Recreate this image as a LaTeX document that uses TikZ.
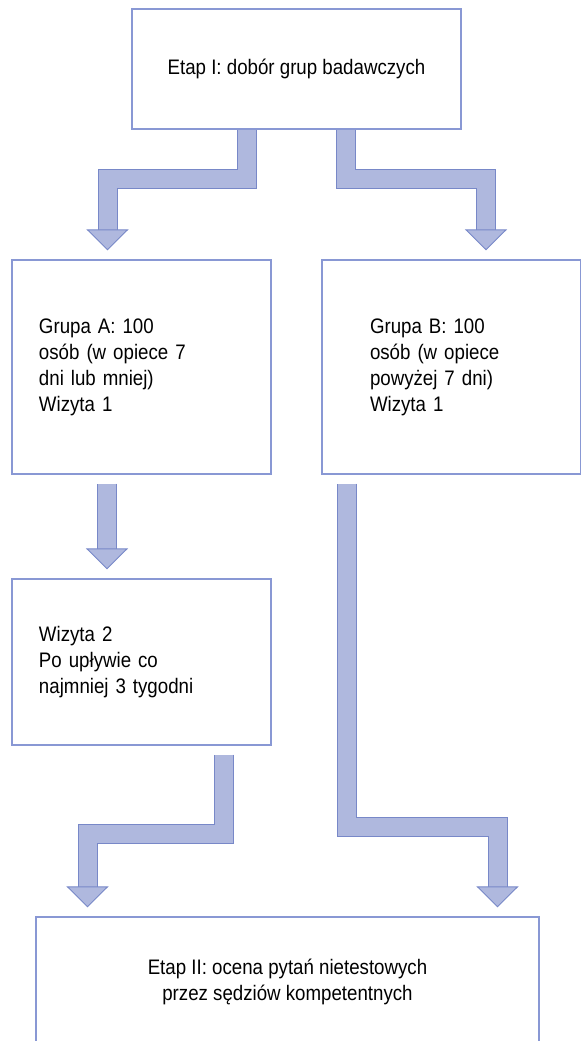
\documentclass[tikz,border=0pt]{standalone}
\usepackage{fontspec}
\setmainfont{Liberation Sans}[FakeStretch=0.89]
\usetikzlibrary{arrows.meta}
\definecolor{boxline}{RGB}{137,152,212}
\definecolor{arrowline}{RGB}{120,136,200}
\definecolor{arrowfill}{RGB}{175,184,222}
\pgfdeclarelayer{edgelayer}
\pgfdeclarelayer{nodelayer}
\pgfsetlayers{edgelayer,nodelayer,main}
\tikzstyle{none}=[inner sep=0pt]
\tikzstyle{box}=[rectangle,draw=boxline,line width=0.6pt,fill=white,inner sep=0pt,font=\fontsize{10.5}{13}\selectfont]
\tikzstyle{stagebox}=[style=box,align=center]
\tikzstyle{groupbox}=[style=box,minimum width=129.5pt,minimum height=107pt,inner xsep=13.5pt,text width=102.5pt,align=left]
\tikzstyle{fatarrow}=[draw=arrowline,line width=0.5pt,double=arrowfill,double distance=9pt,-{Triangle[width=21pt,length=10.5pt,fill=arrowfill]},shorten >=4.5pt]

\begin{document}
\begin{tikzpicture}[x=0.5pt,y=-0.5pt]
	\useasboundingbox (0,0) rectangle (580,1041);
	\clip (0,0) rectangle (580,1041);
	\begin{pgfonlayer}{nodelayer}
		\node [style=stagebox,minimum width=164.5pt,minimum height=60pt] (top) at (296.5,69) {Etap I: dobór grup badawczych};

		\node [style=groupbox] (grpA) at (141.5,367) {Grupa A: 100\\osób (w opiece 7\\dni lub mniej)\\Wizyta 1};
		\node [style=groupbox,inner xsep=24pt,text width=81.5pt] (grpB) at (451.5,367) {Grupa B: 100\\osób (w opiece\\powyżej 7 dni)\\Wizyta 1};
		\node [style=groupbox,minimum height=83pt] (wiz) at (141.5,662) {Wizyta 2\\Po upływie co\\najmniej 3 tygodni};

		\node [style=stagebox,minimum width=251.5pt,minimum height=65pt] (etap2) at (287.5,982) {Etap II: ocena pytań nietestowych\\przez sędziów kompetentnych};

		\coordinate (a1) at (247,178.5);
		\coordinate (a2) at (107.5,178.5);
		\coordinate (b1) at (345.5,178.5);
		\coordinate (b2) at (486,178.5);
		\coordinate (c1) at (107,0);
		\coordinate (d1) at (223.5,833.5);
		\coordinate (d2) at (87.5,833.5);
		\coordinate (e1) at (346.5,826.5);
		\coordinate (e2) at (497.5,826.5);
	\end{pgfonlayer}
	\begin{pgfonlayer}{edgelayer}
		\draw [style=fatarrow] (top.south -| a1) -- (a1) -- (a2) -- (grpA.north -| a2);
		\draw [style=fatarrow] (top.south -| b1) -- (b1) -- (b2) -- (grpB.north -| b2);
		\draw [style=fatarrow,shorten <=4.5pt] (grpA.south -| c1) -- (wiz.north -| c1);
		\draw [style=fatarrow,shorten <=4.5pt] (wiz.south -| d1) -- (d1) -- (d2) -- (etap2.north -| d2);
		\draw [style=fatarrow,shorten <=4.5pt] (grpB.south -| e1) -- (e1) -- (e2) -- (etap2.north -| e2);
	\end{pgfonlayer}
\end{tikzpicture}
\end{document}
